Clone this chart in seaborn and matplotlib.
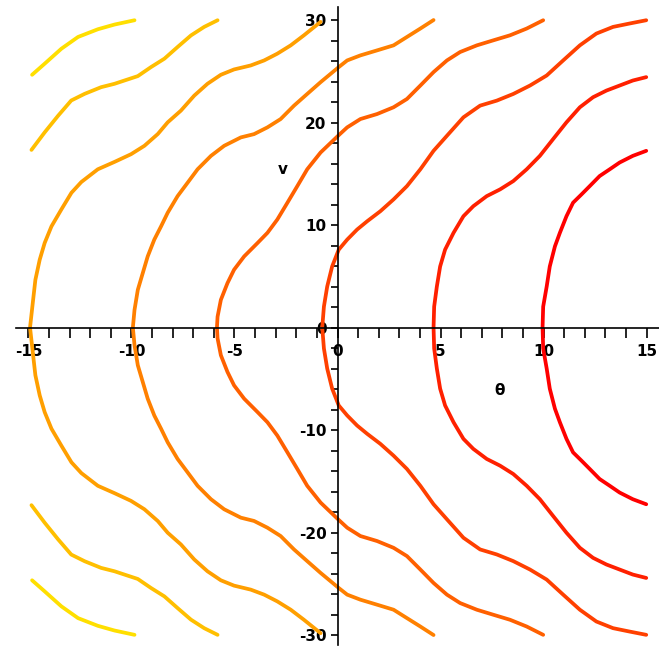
import matplotlib
matplotlib.use('Agg')
import pandas as pd
import matplotlib.pyplot as plt
import seaborn as sns
from matplotlib.ticker import MultipleLocator

# contour lines, upper half only (v >= 0); the plot is symmetric in v
a_theta = [-14.82, -14.21, -13.40, -12.59, -11.63, -10.82, -9.85]
a_v = [24.66, 25.74, 27.2, 28.35, 29.1, 29.56, 29.98]

b_theta = [-14.85, -14.21, -13.56, -12.92, -12.27, -11.47, -10.82, -10.34, -9.69, -9.05,
           -8.40, -7.76, -7.11, -6.47, -5.82]
b_v = [17.33, 19.04, 20.66, 22.15, 22.8, 23.45, 23.78, 24.1, 24.53, 25.41,
       26.23, 27.37, 28.5, 29.33, 29.98]

c_theta = [-14.92, -14.77, -14.66, -14.45, -14.21, -13.88, -13.40, -12.91, -12.43, -11.63,
           -10.82, -10.02, -9.37, -8.72, -8.24, -7.60, -6.95, -6.31, -5.66, -5.02,
           -4.21, -3.56, -2.92, -2.27, -1.63, -0.82]
c_v = [0, 2.70, 4.66, 6.62, 8.25, 9.87, 11.52, 13.15, 14.2, 15.44,
       16.16, 16.91, 17.73, 18.88, 20.02, 21.16, 22.63, 23.78, 24.66, 25.18,
       25.57, 26.06, 26.72, 27.53, 28.51, 29.82]

d_theta = [-9.93, -9.85, -9.69, -9.45, -9.21, -8.89, -8.56, -8.24, -7.76, -7.27,
           -6.79, -6.14, -5.50, -4.69, -4.05, -3.40, -2.76, -2.11, -1.47, -0.82,
           0.06, 0.47, 1.11, 1.92, 2.72, 3.37, 4.02, 4.66]
d_v = [0, 1.72, 3.68, 5.31, 6.94, 8.58, 9.88, 11.2, 12.82, 14.14,
       15.44, 16.75, 17.73, 18.55, 18.87, 19.53, 20.34, 21.65, 22.79, 23.94,
       25.41, 26.06, 26.55, 27.04, 27.53, 28.35, 29.17, 30.0]

e_theta = [-5.85, -5.82, -5.66, -5.34, -5.02, -4.53, -3.88, -3.40, -2.92, -2.43,
           -1.95, -1.47, -0.82, 0.06, 0.47, 1.11, 1.92, 2.72, 3.37, 4.02,
           4.66, 5.31, 5.95, 6.76, 7.56, 8.37, 9.18, 9.98]
e_v = [0, 1.06, 2.70, 4.33, 5.64, 6.94, 8.25, 9.24, 10.54, 12.18,
       13.8, 15.44, 17.08, 18.77, 19.53, 20.34, 20.83, 21.49, 22.3, 23.61,
       24.92, 26.06, 26.88, 27.53, 28.02, 28.51, 29.17, 29.98]

f_theta = [-0.74, -0.66, -0.50, -0.26, 0.06, 0.47, 0.95, 1.44, 2.08, 2.72,
           3.37, 4.02, 4.66, 5.31, 6.11, 6.92, 7.73, 8.53, 9.34, 10.15,
           10.95, 11.76, 12.56, 13.37, 14.17, 14.98]
f_v = [0, 2.04, 4.0, 5.96, 7.6, 8.58, 9.56, 10.37, 11.35, 12.5,
       13.8, 15.44, 17.24, 18.71, 20.51, 21.65, 22.14, 22.79, 23.61, 24.59,
       26.06, 27.53, 28.68, 29.33, 29.66, 29.98]

g_theta = [4.66, 4.69, 4.82, 4.98, 5.22, 5.63, 6.11, 6.59, 7.24, 7.89,
           8.53, 9.18, 9.82, 10.46, 11.11, 11.76, 12.40, 13.05, 13.69, 14.33, 14.98]
g_v = [0, 2.04, 4.0, 5.96, 7.6, 9.24, 10.86, 11.84, 12.82, 13.48,
       14.29, 15.44, 16.75, 18.38, 20.02, 21.49, 22.47, 23.12, 23.61, 24.1, 24.43]

h_theta = [9.95, 9.98, 10.15, 10.30, 10.55, 10.79, 11.11, 11.43, 11.84, 12.24,
           12.72, 13.21, 13.69, 14.33, 14.98]
h_v = [0, 2.04, 4.0, 5.96, 7.92, 9.24, 10.86, 12.18, 12.99, 13.8,
       14.78, 15.44, 16.1, 16.75, 17.24]

contours = [(a_theta, a_v), (b_theta, b_v), (c_theta, c_v), (d_theta, d_v),
            (e_theta, e_v), (f_theta, f_v), (g_theta, g_v), (h_theta, h_v)]
# yellow -> red
colors = ['#ffdf00', '#ffbf00', '#ff9f00', '#ff8000', '#ff6000', '#ff4000', '#ff2000', '#ff0000']

x_ticks = [-15, -10, -5, 0, 5, 10, 15]
y_ticks = [-30, -20, -10, 0, 10, 20, 30]

sns.set_style('white')
plt.rcParams['font.family'] = ['DejaVu Sans']
plt.rcParams['text.color'] = 'black'

fig = plt.figure(figsize=(6.59, 6.52), dpi=100)
ax = fig.add_axes([0.0243, 0.0103, 0.9757, 0.9794])

for (th, v), col in zip(contours, colors):
    if v[0] == 0:
        # one arc crossing v = 0
        df = pd.DataFrame({'theta': th[::-1] + th[1:],
                           'v': [-x for x in v[::-1]] + v[1:]})
        sns.lineplot(data=df, x='theta', y='v', sort=False, estimator=None,
                     color=col, lw=2.7, ax=ax)
    else:
        for sign in (1, -1):
            df = pd.DataFrame({'theta': th, 'v': [sign * x for x in v]})
            sns.lineplot(data=df, x='theta', y='v', sort=False, estimator=None,
                         color=col, lw=2.7, ax=ax)

ax.set_xlim(-15.6, 15.6)
ax.set_ylim(-31.0, 31.3)
for s in ['top', 'right']:
    ax.spines[s].set_visible(False)
for s in ['left', 'bottom']:
    ax.spines[s].set_position(('data', 0))
    ax.spines[s].set_color('black')
    ax.spines[s].set_linewidth(1.2)

ax.set_xticks(x_ticks)
ax.set_xticklabels([str(t) for t in x_ticks], fontsize=11, fontweight='bold')
ax.set_yticks(y_ticks)
ax.set_yticklabels([str(t) for t in y_ticks], fontsize=11, fontweight='bold')
ax.xaxis.set_minor_locator(MultipleLocator(1))
ax.yaxis.set_minor_locator(MultipleLocator(2))
ax.tick_params(axis='x', which='both', direction='out', length=7, width=1.2,
               bottom=True, pad=5, color='black', labelcolor='black')
ax.tick_params(axis='y', which='both', direction='out', length=5, width=1.2,
               left=True, pad=3, color='black', labelcolor='black')
ax.set_xlabel('')
ax.set_ylabel('')
ax.grid(False)

ax.text(-2.64, 15.37, 'v', ha='center', va='center', fontsize=11, fontweight='bold', color='black')
ax.text(7.84, -6.1, 'θ', ha='center', va='center', fontsize=11, fontweight='bold', color='black')

fig.savefig('out.png', dpi=100)
